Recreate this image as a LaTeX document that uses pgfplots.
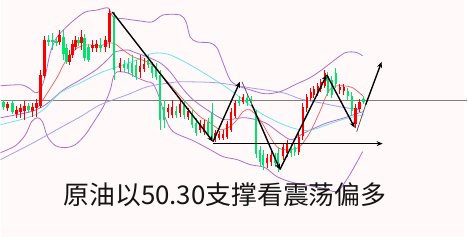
\documentclass[border=0pt]{standalone}
\usepackage{pgfplots}
\usepackage{pgfplotstable}
\pgfplotsset{compat=1.18}
\usepackage{fontspec}
\newfontfamily\cjk{Noto Sans CJK SC}
\usetikzlibrary{arrows.meta}
\definecolor{bgc}{RGB}{255,249,249}
\definecolor{cr}{RGB}{250,0,0}
\definecolor{cg}{RGB}{0,228,110}
\definecolor{band}{RGB}{178,108,200}
\definecolor{cyanl}{RGB}{110,228,240}
\definecolor{lav}{RGB}{165,160,245}
\definecolor{mar}{RGB}{240,95,95}
\definecolor{grl}{RGB}{128,128,128}

% x  bodytop bodybottom wicktop wickbottom  (pixel rows, top = 0)
\pgfplotstableread{
x bt bb wt wb
7 104 108 102 111
16 110 114 106 118
20 108 112 104 118
24 106 111 101 120
32 107 111 103 117
36 103 108 99 117
40 75 106 70 108
44 40 76 36 78
59 35 42 30 45
69 55 62 50 65
72 44 55 40 58
75 40 47 36 50
81 37 43 30 50
92 45 48 40 52
96 44 48 40 52
105 40 47 36 52
109 13 42 9 48
120 63 68 58 72
140 66 72 55 78
144 64 69 58 72
168 108 112 104 118
172 107 115 100 118
180 104 113 100 117
188 111 117 108 120
200 124 130 120 133
204 124 132 120 135
215 133 140 130 142
219 134 138 131 140
223 134 138 130 140
227 124 137 121 139
231 112 130 108 132
235 103 116 100 118
243 97 102 94 104
267 158 163 154 168
271 155 162 150 166
283 147 156 143 160
287 144 153 140 157
299 137 152 133 155
303 107 136 103 140
307 97 108 94 112
311 92 98 88 101
314 89 95 86 98
318 86 92 83 96
321 82 89 79 92
325 73 86 70 88
340 87 90 84 94
344 87 91 84 95
356 108 124 104 128
360 102 109 99 112
}\redc

\pgfplotstableread{
x bt bb wt wb
3 102 107 100 110
12 103 112 100 114
28 106 110 103 113
48 40 42 35 46
52 40 42 33 50
56 41 43 37 46
63 37 54 30 60
66 48 62 44 64
78 40 43 37 46
84 38 58 34 61
88 47 60 44 62
100 45 48 38 52
114 16 70 12 80
124 64 68 60 72
128 64 69 58 73
132 63 73 55 77
136 65 77 60 80
148 60 65 55 68
152 66 73 62 78
156 67 77 63 80
160 75 120 70 130
164 107 120 100 128
176 111 115 106 118
184 105 115 100 119
192 115 125 110 128
196 123 133 118 136
208 122 135 118 137
212 113 137 103 139
239 100 103 96 106
247 98 103 95 106
251 99 103 96 106
256 113 154 110 158
260 150 162 146 166
263 155 165 150 170
275 157 163 153 167
278 153 168 148 172
291 147 153 143 157
295 147 152 143 156
328 76 93 72 96
332 80 95 76 98
336 73 84 68 88
348 91 96 88 100
352 96 111 92 115
364 99 102 96 104
}\greenc

\begin{document}
\begin{tikzpicture}
\fill[white] (0,0) rectangle (468bp,241bp);
\fill[bgc] (0,3bp) rectangle (465bp,241bp);
\begin{axis}[width=468bp,height=241bp,scale only axis,
  xmin=0,xmax=468,ymin=0,ymax=241,y dir=reverse,hide axis,clip=false]

% reference horizontal line
\addplot[grl, line width=1.2pt] coordinates {(0,101) (468,101)};

% bands and moving averages
\addplot[band, line width=0.8pt, smooth] coordinates {(0,86)(20,85)(28,88)(35,93)(40,90)(45,75)(50,52)(56,38)(65,28)(75,19)(85,12)(97,10)(108,8)(113,17)(125,19)(140,21)(152,22)(163,15)(180,15)(186,22)(190,37)(197,42)(210,43)(217,48)(223,63)(230,80)(238,86)(250,90)(265,94)(280,92)(295,85)(310,78)(322,70)(335,60)(345,53)(352,52)(358,53)(363,56)};
\addplot[band, line width=0.8pt, smooth] coordinates {(0,153)(15,146)(25,135)(31,122)(37,118)(42,122)(47,137)(55,146)(65,148)(75,145)(85,135)(93,123)(103,107)(110,90)(113,77)(117,72)(127,73)(137,78)(147,82)(153,84)(160,100)(165,118)(173,132)(193,141)(210,150)(223,157)(237,160)(250,165)(265,168)(277,177)(293,183)(320,188)(337,192)(347,180)(357,163)(363,152)};
\addplot[band, line width=0.8pt, smooth] coordinates {(0,118)(30,112)(45,105)(63,90)(80,80)(97,69)(110,57)(115,52)(127,50)(133,52)(147,57)(160,63)(170,72)(182,88)(193,100)(210,112)(225,120)(245,118)(265,123)(282,135)(292,140)(305,133)(325,124)(345,118)(363,112)};
\addplot[cyanl, line width=0.8pt, smooth] coordinates {(0,125)(20,120)(35,115)(45,108)(60,93)(80,83)(100,73)(117,67)(137,60)(150,54)(157,53)(170,55)(190,65)(210,77)(230,90)(247,103)(260,113)(277,122)(292,128)(308,131)(325,126)(342,120)(355,117)(365,115)};
\addplot[lav, line width=0.8pt, smooth] coordinates {(0,160)(33,143)(60,128)(80,117)(100,105)(127,95)(147,87)(170,83)(183,82)(217,83)(250,88)(283,93)(300,99)(320,103)(340,107)(360,110)};
\addplot[mar, line width=0.7pt, smooth] coordinates {(38,107)(47,93)(57,77)(63,65)(70,55)(77,48)(87,45)(100,46)(108,43)(115,44)(120,48)(133,57)(147,62)(157,70)(163,77)(177,93)(190,107)(200,117)(210,123)(220,130)(230,127)(237,120)(243,112)(250,110)(260,120)(270,137)(277,147)(283,150)(290,150)(300,147)(310,133)(320,112)(327,95)(333,87)(343,86)(353,88)(363,96)};

% candles: wicks then bodies
\addplot[forget plot, draw=none, mark=none, error bars/.cd, y dir=both, y explicit, error mark=none,
  error bar style={draw=cr, line width=0.7pt}]
  table[x=x, y expr={(\thisrow{wt}+\thisrow{wb})/2}, y error expr={(\thisrow{wb}-\thisrow{wt})/2}] {\redc};
\addplot[forget plot, draw=none, mark=none, error bars/.cd, y dir=both, y explicit, error mark=none,
  error bar style={draw=cr, line width=2.4pt}]
  table[x=x, y expr={(\thisrow{bt}+\thisrow{bb})/2}, y error expr={(\thisrow{bb}-\thisrow{bt})/2}] {\redc};
\addplot[forget plot, draw=none, mark=none, error bars/.cd, y dir=both, y explicit, error mark=none,
  error bar style={draw=cg, line width=0.7pt}]
  table[x=x, y expr={(\thisrow{wt}+\thisrow{wb})/2}, y error expr={(\thisrow{wb}-\thisrow{wt})/2}] {\greenc};
\addplot[forget plot, draw=none, mark=none, error bars/.cd, y dir=both, y explicit, error mark=none,
  error bar style={draw=cg, line width=2.4pt}]
  table[x=x, y expr={(\thisrow{bt}+\thisrow{bb})/2}, y error expr={(\thisrow{bb}-\thisrow{bt})/2}] {\greenc};

% annotation arrows
\addplot[black, line width=1.4pt, -{Stealth[length=6bp,width=5bp]}] coordinates {(112,12) (213,142)};
\addplot[black, line width=1.4pt, -{Stealth[length=6bp,width=5bp]}] coordinates {(213,142) (240,82)};
\addplot[black!70, line width=0.7pt] coordinates {(242,82) (252,105)};
\addplot[black, line width=1.4pt, -{Stealth[length=6bp,width=5bp]}] coordinates {(252,105) (280,170)};
\addplot[black, line width=1.4pt, -{Stealth[length=6bp,width=5bp]}] coordinates {(280,170) (327,75)};
\addplot[black, line width=1.4pt, -{Stealth[length=6bp,width=5bp]}] coordinates {(327,75) (355,128)};
\addplot[black!70, line width=0.7pt] coordinates {(357,132) (366,105)};
\addplot[black, line width=1.4pt, -{Stealth[length=6bp,width=5bp]}] coordinates {(366,105) (382,62)};
\addplot[black, line width=1.4pt, -{Stealth[length=6bp,width=5bp]}] coordinates {(213,144) (383,144)};

\node[text=black!92] at (axis cs:225,195) {\cjk\fontsize{26}{30}\selectfont 原油以50.30支撑看震荡偏多};
\end{axis}
\end{tikzpicture}
\end{document}
